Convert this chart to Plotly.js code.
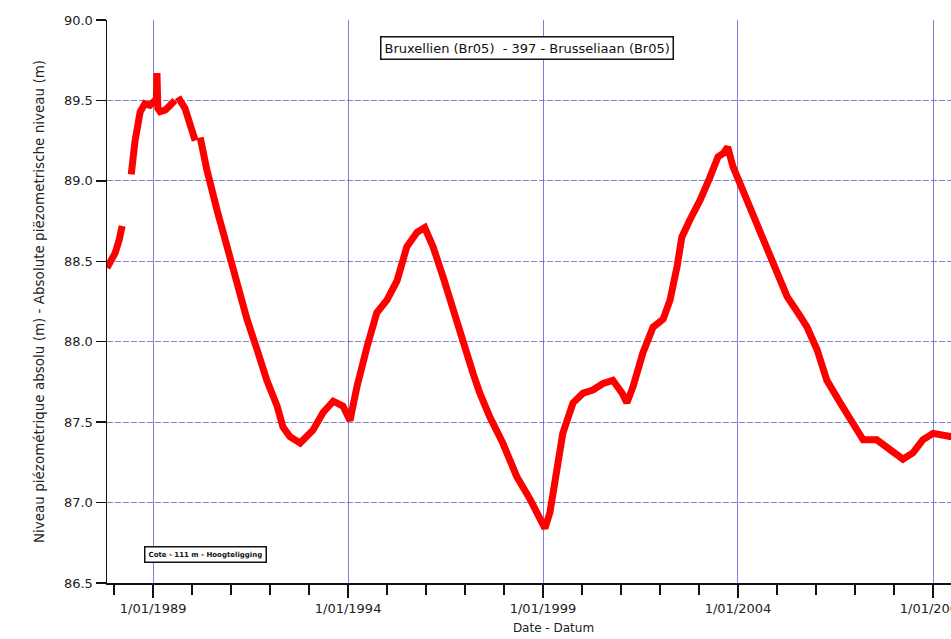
<!DOCTYPE html>
<html>
<head>
<meta charset="utf-8">
<script src="https://cdn.plot.ly/plotly-3.0.1.min.js"></script>
<style>
  html, body { margin: 0; padding: 0; background: #fff; overflow: hidden; }
  #chart { width: 1000px; height: 639px; }
</style>
</head>
<body>
<div id="chart"></div>
<script>
// Piezometric level, well 397 - Bruxellien / Brusseliaan (Br05)
// null entries mark gaps in the record
const dates = [
  "1987-10-27", "1987-11-24", "1988-01-11", "1988-02-17", "1988-03-17", null,
  "1988-06-10", "1988-07-16", "1988-09-02", "1988-10-16", "1988-12-02", "1989-01-19",
  "1989-01-30", "1989-02-06", "1989-02-14", "1989-03-07", "1989-04-23", "1989-06-10",
  "1989-07-24", null,
  "1989-08-22", "1989-10-27", "1990-01-30", null,
  "1990-03-18", "1990-05-19", "1990-08-22", "1990-11-24", "1991-02-24", "1991-05-30",
  "1991-09-02", "1991-12-02", "1992-03-07", "1992-05-01", "1992-07-05", "1992-10-09",
  "1993-02-06", "1993-05-12", "1993-08-15", "1993-11-14", "1994-01-19", "1994-03-25",
  "1994-06-28", "1994-09-27", "1995-01-01", "1995-04-05", "1995-07-05", "1995-10-09",
  "1995-12-20", "1996-03-07", "1996-06-10", "1996-09-09", "1996-12-13", "1997-03-18",
  "1997-05-19", "1997-08-22", "1997-12-20", "1998-05-01", "1998-09-02", "1998-12-02",
  "1999-01-19", "1999-03-07", "1999-05-12", "1999-07-05", "1999-10-09", "2000-01-11",
  "2000-04-12", "2000-07-16", "2000-10-16", "2001-01-11", "2001-02-24", "2001-04-23",
  "2001-07-24", "2001-10-27", "2002-01-30", "2002-04-05", "2002-06-10", "2002-07-24",
  "2002-10-09", "2003-01-11", "2003-04-12", "2003-06-28", "2003-08-15", "2003-09-27",
  "2003-11-14", "2004-02-17", "2004-05-19", "2004-08-22", "2004-11-24", "2005-04-05",
  "2005-08-04", "2005-10-09", "2006-01-11", "2006-04-12", "2006-08-15", "2006-12-13",
  "2007-03-18", "2007-07-24", "2007-11-24", "2008-03-25", "2008-06-28", "2008-09-27",
  "2009-01-01", "2009-06-18", "2009-09-20"
];

const levels = [
  88.46, 88.50, 88.55, 88.63, 88.72, null,
  89.04, 89.25, 89.43, 89.48, 89.47, 89.50,
  89.48, 89.67, 89.45, 89.43, 89.44, 89.47,
  89.50, null,
  89.52, 89.45, 89.25, null,
  89.27, 89.07, 88.82, 88.59, 88.34, 88.14,
  87.95, 87.76, 87.60, 87.47, 87.41, 87.37,
  87.45, 87.56, 87.63, 87.60, 87.51, 87.72,
  87.97, 88.18, 88.26, 88.38, 88.59, 88.68,
  88.71, 88.59, 88.40, 88.20, 87.98, 87.80,
  87.68, 87.53, 87.37, 87.16, 87.02, 86.89,
  86.84, 86.94, 87.22, 87.43, 87.62, 87.68,
  87.70, 87.74, 87.76, 87.68, 87.62, 87.72,
  87.93, 88.09, 88.14, 88.26, 88.47, 88.65,
  88.76, 88.88, 89.02, 89.15, 89.17, 89.21,
  89.09, 88.94, 88.80, 88.63, 88.49, 88.28,
  88.16, 88.09, 87.95, 87.76, 87.62, 87.50,
  87.39, 87.39, 87.33, 87.27, 87.31, 87.39,
  87.43, 87.41, 87.42
];

const xRange = ["1987-10-27", "2010-09-20"];
const yRange = [86.5, 90.0];

const titleText = "Bruxellien (Br05)  - 397 - Brusseliaan (Br05)";
const elevationText = "Cote - 111 m - Hoogteligging";
const yTitle = "Niveau piézométrique absolu (m) - Absolute piëzometrische niveau (m)";
const xTitle = "Date - Datum";

const gridColor = "rgba(95,95,210,0.8)";
const baseFont = "DejaVu Sans, Liberation Sans, Arial, sans-serif";

const trace = {
  x: dates,
  y: levels,
  type: "scatter",
  mode: "lines",
  connectgaps: false,
  line: { color: "#ff0000", width: 7 },
  hoverinfo: "x+y"
};

const layout = {
  width: 1000,
  height: 639,
  margin: { l: 107, r: 0, t: 20, b: 56, pad: 0 },
  paper_bgcolor: "#ffffff",
  plot_bgcolor: "#ffffff",
  showlegend: false,
  font: { family: baseFont, color: "#222" },
  xaxis: {
    type: "date",
    range: xRange,
    tick0: "1989-01-01",
    dtick: "M60",
    tickformat: "%-d/%m/%Y",
    ticks: "outside",
    ticklen: 13,
    tickwidth: 1.3,
    tickcolor: "#111",
    showline: true,
    linecolor: "#111",
    linewidth: 1.5,
    showgrid: true,
    gridcolor: gridColor,
    gridwidth: 1,
    zeroline: false,
    minor: {
      dtick: "M12",
      tick0: "1989-01-01",
      ticks: "outside",
      ticklen: 10,
      tickwidth: 1.3,
      tickcolor: "#111",
      showgrid: false
    },
    tickfont: { family: baseFont, size: 13, color: "#222" },
    title: { text: xTitle, font: { family: baseFont, size: 12, color: "#222" }, standoff: 8 }
  },
  yaxis: {
    range: yRange,
    dtick: 0.5,
    tickformat: ".1f",
    ticks: "outside",
    ticklen: 10,
    tickwidth: 1.3,
    tickcolor: "#111",
    showline: true,
    linecolor: "#111",
    linewidth: 1.5,
    showgrid: true,
    gridcolor: gridColor,
    griddash: "6px,2px",
    gridwidth: 1,
    zeroline: false,
    tickfont: { family: baseFont, size: 13, color: "#222" },
    title: { text: yTitle, font: { family: baseFont, size: 13.5, color: "#222" }, standoff: 16 }
  },
  annotations: [
    {
      xref: "paper", yref: "paper",
      x: 0.47, y: 0.95,
      xanchor: "center", yanchor: "middle",
      text: titleText,
      showarrow: false,
      font: { family: baseFont, size: 13, color: "#111" },
      bgcolor: "#ffffff",
      bordercolor: "#111",
      borderwidth: 1.5,
      borderpad: 3
    },
    {
      xref: "paper", yref: "paper",
      x: 0.11, y: 0.05,
      xanchor: "center", yanchor: "middle",
      text: "<b>" + elevationText + "</b>",
      showarrow: false,
      font: { family: baseFont, size: 7, color: "#111" },
      bgcolor: "#ffffff",
      bordercolor: "#111",
      borderwidth: 1.5,
      borderpad: 3
    }
  ]
};

Plotly.newPlot("chart", [trace], layout, { displayModeBar: false, staticPlot: true });
</script>
</body>
</html>
